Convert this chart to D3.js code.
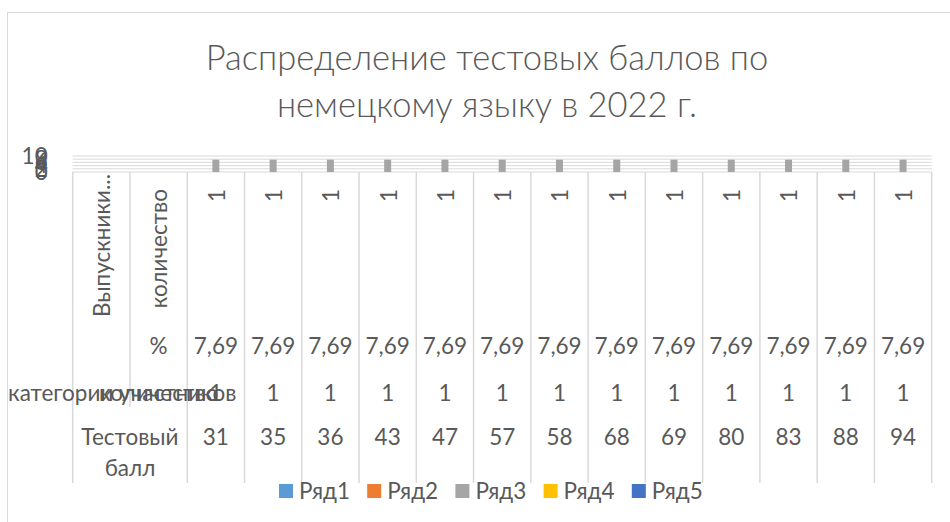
<!DOCTYPE html>
<html><head><meta charset="utf-8">
<script src="https://cdn.jsdelivr.net/npm/d3@7"></script>
<style>body{margin:0;background:#fff} svg{display:block}</style>
</head><body><svg id="c" width="950" height="522"></svg>
<script>
// ---------- data ----------
const titleLines = ["Распределение тестовых баллов по", "немецкому языку в 2022 г."];
const seriesNames = ["Ряд1", "Ряд2", "Ряд3", "Ряд4", "Ряд5"];
const seriesColors = ["#5b9bd5", "#ed7d31", "#a5a5a5", "#ffc000", "#4472c4"];
// multi-level category labels (innermost level first)
const level1 = ["Выпускники...", "количество", "1", "1", "1", "1", "1", "1", "1", "1", "1", "1", "1", "1", "1"];
const level2 = ["", "%", "7,69", "7,69", "7,69", "7,69", "7,69", "7,69", "7,69", "7,69", "7,69", "7,69", "7,69", "7,69", "7,69"];
const level3 = ["категории участников", "количество", "1", "1", "1", "1", "1", "1", "1", "1", "1", "1", "1", "1", "1"];
const level4 = ["Тестовый балл", "", "31", "35", "36", "43", "47", "57", "58", "68", "69", "80", "83", "88", "94"];
// series values
const ryad1 = [null, null, 0, 0, 0, 0, 0, 0, 0, 0, 0, 0, 0, 0, 0];
const ryad2 = [null, null, 0, 0, 0, 0, 0, 0, 0, 0, 0, 0, 0, 0, 0];
const ryad3 = [null, null, 7.69, 7.69, 7.69, 7.69, 7.69, 7.69, 7.69, 7.69, 7.69, 7.69, 7.69, 7.69, 7.69];
const ryad4 = [null, null, 0, 0, 0, 0, 0, 0, 0, 0, 0, 0, 0, 0, 0];
const ryad5 = [null, null, 0, 0, 0, 0, 0, 0, 0, 0, 0, 0, 0, 0, 0];
const yTicks = [0, 2, 4, 6, 8, 10];

// ---------- layout ----------
const FONT = "Lato, 'Open Sans', sans-serif";
const TXT = "#595959";
const GRID = "#d9d9d9";
const FS = 22.5;
const chartLeft = 8;
const plot = {left: 72.7, right: 931.7, top: 156, bottom: 172};
const rows = {l1: 322, l2: 370, l3: 407, l4: 483};
const gapWidth = 0.64;

const svg = d3.select("#c");
svg.append("rect").attr("x", 7.5).attr("y", 12.5).attr("width", 960).attr("height", 530)
  .attr("fill", "#fff").attr("stroke", GRID).attr("stroke-width", 1);

// title
svg.append("g").selectAll("text").data(titleLines).join("text")
  .attr("x", 487).attr("y", (d, i) => 70 + i * 46.5)
  .attr("text-anchor", "middle").attr("font-family", FONT).attr("font-weight", 300)
  .attr("font-size", 34.5).attr("fill", TXT).text(d => d);

const idx = d3.range(level1.length);
const x = d3.scaleBand().domain(idx).range([plot.left, plot.right]).padding(0);
const bw = x.bandwidth();
const clusterW = bw / (1 + gapWidth);
const xs = d3.scaleBand().domain(seriesNames).range([(bw - clusterW) / 2, (bw + clusterW) / 2]);
const y = d3.scaleLinear().domain([0, 10]).range([plot.bottom, plot.top]);

// gridlines
svg.append("g").selectAll("line").data(yTicks).join("line")
  .attr("x1", plot.left).attr("x2", plot.right)
  .attr("y1", d => y(d)).attr("y2", d => y(d))
  .attr("stroke", GRID).attr("stroke-width", 1);

// y axis
const ya = svg.append("g").attr("transform", `translate(${plot.left},0)`)
  .call(d3.axisLeft(y).tickValues(yTicks).tickSize(0).tickPadding(25));
ya.select(".domain").remove();
ya.selectAll("text").attr("font-family", FONT).attr("font-size", FS).attr("fill", TXT);

// bars
const series = [ryad1, ryad2, ryad3, ryad4, ryad5];
series.forEach((vals, si) => {
  svg.append("g").selectAll("rect")
    .data(idx.filter(i => vals[i] != null && vals[i] > 0))
    .join("rect")
    .attr("x", i => x(i) + xs(seriesNames[si]))
    .attr("width", xs.bandwidth())
    .attr("y", i => y(vals[i]))
    .attr("height", i => y(0) - y(vals[i]))
    .attr("fill", seriesColors[si]);
});

// category separators (multi-level)
const bounds = d3.range(level1.length + 1);
svg.append("g").selectAll("line").data(bounds).join("line")
  .attr("x1", b => b < level1.length ? x(b) : plot.right)
  .attr("x2", b => b < level1.length ? x(b) : plot.right)
  .attr("y1", plot.bottom)
  .attr("y2", b => (b > 0 && b < level1.length && level4[b] === "") ? rows.l3 : rows.l4)
  .attr("stroke", GRID).attr("stroke-width", 1.5);

const lab = svg.append("g").attr("font-family", FONT).attr("font-size", FS).attr("fill", TXT);
// level1 rotated
lab.selectAll("text.l1").data(idx).join("text").attr("class", "l1")
  .attr("transform", i => `translate(${x(i) + bw / 2 + 1},${level1[i].endsWith("...") ? 174 : 189}) rotate(-90)`)
  .attr("text-anchor", "end").attr("dy", "0.35em").text(i => level1[i]);
// level2
lab.selectAll("text.l2").data(idx).join("text").attr("class", "l2")
  .attr("x", i => x(i) + bw / 2).attr("y", 346).attr("dy", "0.35em")
  .attr("text-anchor", "middle").text(i => level2[i]);
// level3 (labels are kept inside the chart area, like the original)
lab.selectAll("text.l3").data(idx).join("text").attr("class", "l3")
  .attr("x", i => x(i) + bw / 2).attr("y", 393).attr("dy", "0.35em")
  .attr("text-anchor", "middle").text(i => level3[i])
  .each(function () {
    const w = this.getComputedTextLength();
    const cx = +this.getAttribute("x");
    if (cx - w / 2 < chartLeft) this.setAttribute("x", chartLeft + w / 2);
  });
// level4 (labels followed by empty cells span them; wrapped)
const l4 = lab.selectAll("text.l4").data(idx.filter(i => level4[i] !== "")).join("text").attr("class", "l4")
  .attr("text-anchor", "middle");
l4.each(function (i) {
  let span = 1;
  while (i + span < level4.length && level4[i + span] === "") span++;
  const cx = x(i) + bw * span / 2;
  const words = span > 1 ? level4[i].split(" ") : [level4[i]];
  d3.select(this).selectAll("tspan").data(words).join("tspan")
    .attr("x", cx).attr("y", (d, k) => 437 + k * 31).attr("dy", "0.35em").text(d => d);
});

// legend
const lg = svg.append("g").selectAll("g").data(seriesNames).join("g")
  .attr("transform", (d, i) => `translate(${279 + i * 88.2},491)`);
lg.append("rect").attr("x", 0).attr("y", -7).attr("width", 14).attr("height", 14)
  .attr("fill", (d, i) => seriesColors[i]);
lg.append("text").attr("x", 20).attr("dy", "0.35em").attr("font-family", FONT)
  .attr("font-size", FS).attr("fill", TXT).text(d => d);
</script>
</body></html>
